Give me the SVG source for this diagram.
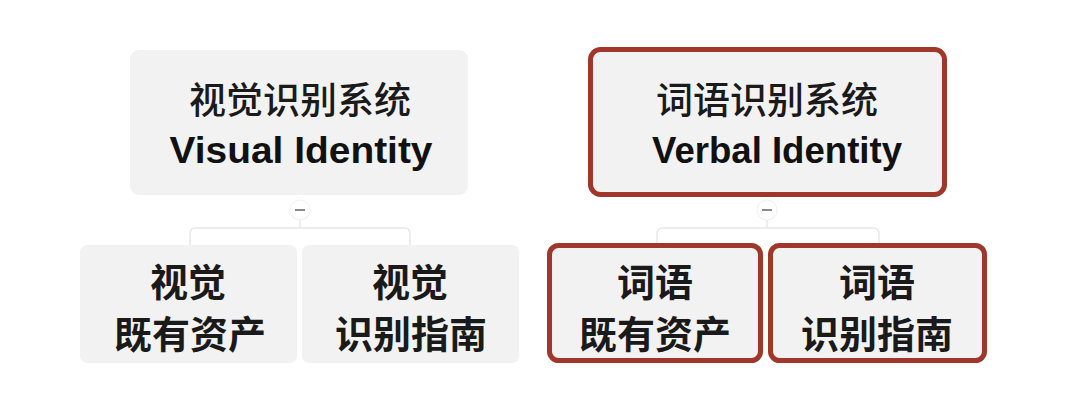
<svg xmlns="http://www.w3.org/2000/svg" width="1070" height="412" viewBox="0 0 1070 412">
<style>
.box{fill:#f2f2f2;}
.hl{fill:#f2f2f2;stroke:#a0372a;stroke-width:5;}
.zh{font-family:"Noto Sans CJK SC","Liberation Serif",serif;font-weight:700;fill:#1a1a1a;text-anchor:middle;}
.zt{font-family:"Noto Sans CJK SC","Liberation Serif",serif;font-weight:500;fill:#1a1a1a;text-anchor:middle;}
.en{font-family:"Liberation Sans",Arial,sans-serif;font-weight:700;fill:#111;text-anchor:middle;}
.con{fill:none;stroke:#e8e8e8;stroke-width:1.5;}
.knob{fill:#fff;stroke:#f0f0f0;stroke-width:1;}
.minus{stroke:#8a8a8a;stroke-width:2;}
</style>
<rect width="1070" height="412" fill="#fff"/>
<g id="connectors">
<path class="con" d="M300 220 V228 M190 245 V234 Q190 228 196 228 H404 Q410 228 410 234 V245"/>
<path class="con" d="M767 220 V228 M657 243 V234 Q657 228 663 228 H873 Q879 228 879 234 V243"/>
<circle class="knob" cx="300" cy="210" r="10"/>
<line class="minus" x1="295" y1="210" x2="305" y2="210"/>
<circle class="knob" cx="767" cy="210" r="10"/>
<line class="minus" x1="762" y1="210" x2="772" y2="210"/>
</g>
<g id="visual">
<rect class="box" x="130" y="50" width="338" height="145" rx="9"/>
<text class="zt" x="300" y="114" font-size="37">视觉识别系统</text>
<text class="en" x="301" y="163" font-size="36" textLength="263" lengthAdjust="spacingAndGlyphs">Visual Identity</text>
</g>
<g id="verbal">
<rect class="hl" x="590.5" y="49.5" width="354" height="145" rx="10"/>
<text class="zt" x="767" y="114" font-size="37">词语识别系统</text>
<text class="en" x="777" y="163" font-size="36" textLength="250" lengthAdjust="spacingAndGlyphs">Verbal Identity</text>
</g>
<g id="visual-assets">
<rect class="box" x="80" y="245" width="217" height="118" rx="7"/>
<text class="zh" x="188" y="296" font-size="38">视觉</text>
<text class="zh" x="190" y="348" font-size="38">既有资产</text>
</g>
<g id="visual-guide">
<rect class="box" x="302" y="245" width="217" height="118" rx="7"/>
<text class="zh" x="410" y="296" font-size="38">视觉</text>
<text class="zh" x="411" y="348" font-size="38">识别指南</text>
</g>
<g id="verbal-assets">
<rect class="hl" x="549.5" y="245.5" width="211" height="115" rx="9"/>
<text class="zh" x="655" y="296" font-size="38">词语</text>
<text class="zh" x="655" y="348" font-size="38">既有资产</text>
</g>
<g id="verbal-guide">
<rect class="hl" x="770.5" y="245.5" width="214" height="115" rx="9"/>
<text class="zh" x="877" y="296" font-size="38">词语</text>
<text class="zh" x="877" y="348" font-size="38">识别指南</text>
</g>
</svg>
